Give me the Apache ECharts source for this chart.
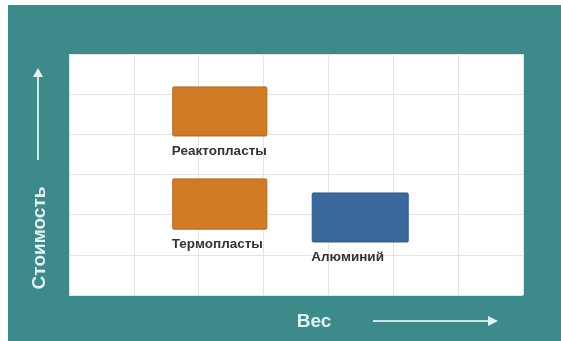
<!DOCTYPE html>
<html>
<head>
<meta charset="utf-8">
<script src="https://cdn.jsdelivr.net/npm/echarts@6/dist/echarts.min.js"></script>
<style>
  html, body { margin: 0; padding: 0; background: #fff; }
  #chart { position: absolute; left: 8px; top: 5px; width: 553px; height: 336px; }
</style>
</head>
<body>
<div id="chart"></div>
<script>
// материалы и их области "вес / стоимость" (в клетках сетки)
var materials = ["Реактопласты", "Термопласты", "Алюминий"];
var weightFrom = [1.6, 1.6, 3.75];
var weightTo = [3.05, 3.05, 5.23];
var costFrom = [3.96, 1.64, 1.32];
var costTo = [5.18, 2.89, 2.54];
var fillColors = ["#d27b25", "#d27b25", "#3a6a9d"];
var edgeColors = ["#b4661c", "#b4661c", "#2f5985"];

var chart = echarts.init(document.getElementById("chart"));

var boxes = materials.map(function (name, i) {
  return [weightFrom[i], weightTo[i], costFrom[i], costTo[i], i];
});

chart.setOption({
  backgroundColor: "#3d8a8a",
  animation: false,
  grid: {
    left: 61,
    right: 38,
    top: 49,
    bottom: 46,
    show: true,
    backgroundColor: "#fff",
    borderWidth: 0
  },
  xAxis: {
    type: "value",
    min: 0,
    max: 7,
    interval: 1,
    axisLine: { show: false },
    axisTick: { show: false },
    axisLabel: { show: false },
    splitLine: { lineStyle: { color: "#e4e4e4", width: 1 } }
  },
  yAxis: {
    type: "value",
    min: 0,
    max: 6,
    interval: 1,
    axisLine: { show: false },
    axisTick: { show: false },
    axisLabel: { show: false },
    splitLine: { lineStyle: { color: "#e4e4e4", width: 1 } }
  },
  series: [
    {
      type: "custom",
      data: boxes,
      renderItem: function (params, api) {
        var i = api.value(4);
        var p0 = api.coord([api.value(0), api.value(3)]);
        var p1 = api.coord([api.value(1), api.value(2)]);
        return {
          type: "group",
          children: [
            {
              type: "rect",
              shape: { x: p0[0], y: p0[1], width: p1[0] - p0[0], height: p1[1] - p0[1], r: 1 },
              style: { fill: fillColors[i], stroke: edgeColors[i], lineWidth: 1 }
            },
            {
              type: "text",
              x: p0[0] - 1,
              y: p1[1] + 8,
              style: {
                text: materials[i],
                fill: "#333",
                font: "bold 13.5px 'Liberation Sans', Arial, sans-serif",
                textAlign: "left",
                textVerticalAlign: "top"
              }
            }
          ]
        };
      }
    }
  ],
  graphic: [
    // ось стоимости
    {
      type: "text",
      x: 32,
      y: 233,
      rotation: Math.PI / 2,
      style: {
        text: "Стоимость",
        fill: "#e2f1f1",
        font: "bold 19px 'Liberation Sans', Arial, sans-serif",
        textAlign: "center",
        textVerticalAlign: "middle"
      }
    },
    {
      type: "line",
      shape: { x1: 30, y1: 155, x2: 30, y2: 70 },
      style: { stroke: "#cfe6e6", lineWidth: 2 }
    },
    {
      type: "polygon",
      shape: { points: [[25, 72], [35, 72], [30, 63]] },
      style: { fill: "#e2f1f1" }
    },
    // ось веса
    {
      type: "text",
      x: 306,
      y: 317,
      style: {
        text: "Вес",
        fill: "#e2f1f1",
        font: "bold 19px 'Liberation Sans', Arial, sans-serif",
        textAlign: "center",
        textVerticalAlign: "middle"
      }
    },
    {
      type: "line",
      shape: { x1: 365, y1: 316, x2: 482, y2: 316 },
      style: { stroke: "#cfe6e6", lineWidth: 2 }
    },
    {
      type: "polygon",
      shape: { points: [[480, 311], [480, 321], [490, 316]] },
      style: { fill: "#e2f1f1" }
    }
  ]
});

window.onresize = function () { chart.resize(); };
</script>
</body>
</html>
